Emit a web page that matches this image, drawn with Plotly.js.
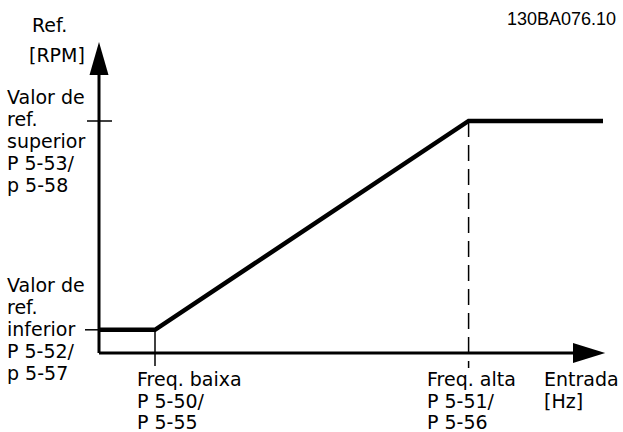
<!DOCTYPE html>
<html>
<head>
<meta charset="utf-8">
<script src="https://cdn.plot.ly/plotly-3.0.1.min.js"></script>
<style>html,body{margin:0;padding:0;background:#fff;}#chart{width:623px;height:432px;}</style>
</head>
<body>
<div id="chart"></div>
<script>
// ---- data (schematic values) ----
const freqPoints = [0, 10, 66, 90];      // input frequency [Hz]
const refPoints = [10, 10, 100, 100];    // reference [RPM]
const freqLow = 10;    // Freq. baixa
const freqHigh = 66;   // Freq. alta
const refLow = 10;     // Valor de ref. inferior
const refHigh = 100;   // Valor de ref. superior
const xAxisEnd = 90.4;
const yAxisEnd = 134;

// labels
const yTitleLines = ["Ref.", "[RPM]"];
const upperLabelLines = ["Valor de", "ref.", "superior", "P 5-53/", "p 5-58"];
const lowerLabelLines = ["Valor de", "ref.", "inferior", "P 5-52/", "p 5-57"];
const lowFreqLines = ["Freq. baixa", "P 5-50/", "P 5-55"];
const highFreqLines = ["Freq. alta", "P 5-51/", "P 5-56"];
const xTitleLines = ["Entrada", "[Hz]"];
const docCode = "130BA076.10";

// ---- layout helpers ----
const W = 623, H = 432;
const originPx = [99, 353];
const pxPerX = 5.6, pxPerY = 2.32;
const xRange = [-originPx[0] / pxPerX, (W - originPx[0]) / pxPerX];
const yRange = [-(H - originPx[1]) / pxPerY, originPx[1] / pxPerY];
const px2x = p => (p - originPx[0]) / pxPerX;
const px2y = p => (originPx[1] - p) / pxPerY;

const FONT = "DejaVu Sans";
const FS = 19;
const ann = [];
function addLines(lines, xPx, yPx0, step) {
  lines.forEach((t, i) => {
    ann.push({
      text: t, xref: "paper", yref: "paper",
      x: xPx / W, y: 1 - (yPx0 + i * step) / H,
      xanchor: "left", yanchor: "middle", showarrow: false,
      font: {family: FONT, size: FS, color: "#000"}
    });
  });
}
addLines([yTitleLines[0]], 30, 25, 0);
addLines([yTitleLines[1]], 27, 55, 0);
addLines(upperLabelLines, 5, 97, 22);
addLines(lowerLabelLines, 5, 285, 22);
addLines(lowFreqLines, 135, 379, 21.5);
addLines(highFreqLines, 425, 379, 21.5);
addLines(xTitleLines, 542, 379, 21.5);
ann.push({
  text: docCode, xref: "paper", yref: "paper", x: 618 / W, y: 1 - 19 / H,
  xanchor: "right", yanchor: "middle", showarrow: false,
  font: {family: "Liberation Sans", size: 18, color: "#000"}
});

const yArrowBase = px2y(75), yArrowHalf = 9.5 / pxPerX;
const xArrowBase = px2x(573), xArrowHalf = 10 / pxPerY;

const shapes = [
  // axes
  {type: "line", x0: 0, x1: 0, y0: 0, y1: yArrowBase + 1, line: {color: "#000", width: 3}},
  {type: "line", x0: 0, x1: xArrowBase + 1, y0: 0, y1: 0, line: {color: "#000", width: 3}},
  {type: "path", path: `M 0 ${yAxisEnd} L ${-yArrowHalf} ${yArrowBase} L ${yArrowHalf} ${yArrowBase} Z`,
   fillcolor: "#000", line: {color: "#000", width: 0}},
  {type: "path", path: `M ${xAxisEnd} 0 L ${xArrowBase} ${xArrowHalf} L ${xArrowBase} ${-xArrowHalf} Z`,
   fillcolor: "#000", line: {color: "#000", width: 0}},
  // ticks
  {type: "line", x0: px2x(87), x1: px2x(112), y0: refHigh, y1: refHigh, line: {color: "#000", width: 1.5}},
  {type: "line", x0: px2x(85), x1: 0, y0: refLow, y1: refLow, line: {color: "#000", width: 1.5}},
  {type: "line", x0: freqLow, x1: freqLow, y0: refLow, y1: px2y(366), line: {color: "#000", width: 1.5}},
  {type: "line", x0: freqHigh, x1: freqHigh, y0: refHigh, y1: px2y(368), line: {color: "#000", width: 1.5, dash: "16px,8px"}}
];

const trace = {
  x: freqPoints, y: refPoints, type: "scatter", mode: "lines",
  line: {color: "#000", width: 4.5, shape: "linear"}, hoverinfo: "skip", cliponaxis: false
};

const axisStyle = {showgrid: false, zeroline: false, showline: false, showticklabels: false, ticks: "", fixedrange: true};
const layout = {
  width: W, height: H, margin: {l: 0, r: 0, t: 0, b: 0},
  paper_bgcolor: "#fff", plot_bgcolor: "#fff", showlegend: false,
  xaxis: Object.assign({range: xRange}, axisStyle),
  yaxis: Object.assign({range: yRange}, axisStyle),
  shapes: shapes, annotations: ann
};
Plotly.newPlot("chart", [trace], layout, {displayModeBar: false, staticPlot: true});
</script>
</body>
</html>
